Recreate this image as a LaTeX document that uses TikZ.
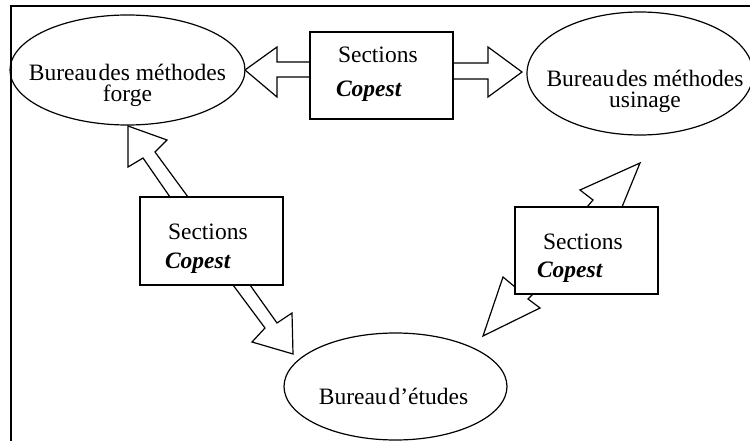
\documentclass[tikz,border=0pt]{standalone}
\usepackage{fontspec}
\setmainfont{Liberation Serif}
\usetikzlibrary{shapes.geometric}
\begin{document}
\begin{tikzpicture}[x=1pt,y=-1pt,
  every node/.style={inner sep=0pt,outer sep=0pt},
  txt/.style={font=\fontsize{23.5}{24}\selectfont},
  cop/.style={font=\fontsize{23.5}{24}\selectfont\bfseries\itshape},
  twoline/.style={font=\fontsize{23.5}{21.5}\selectfont,align=center},
  bubble/.style={draw,ellipse,line width=1.2pt},
  secbox/.style={draw,rectangle,line width=1.8pt,fill=white},
  blockarrow/.style={draw,line width=1.2pt,fill=white,line join=miter}]
\useasboundingbox (0,0) rectangle (750,441);
\begin{scope}
\clip (0,0) rectangle (750,441);
\draw[line width=2pt] (10.5,460) |- (780,6);
\node[bubble,minimum width=226pt,minimum height=123pt] (usin) at (640,73.5) {};
\end{scope}
% ellipses
\node[bubble,minimum width=235pt,minimum height=110pt] (forge) at (127.5,70) {};
\node[bubble,minimum width=223pt,minimum height=107pt] (etudes) at (395.5,386.5) {};
% block arrows
\draw[blockarrow] (310,62) -- (277,62) -- (277,47) -- (245,70) -- (277,97) -- (277,77) -- (310,77) -- cycle;
\draw[blockarrow] (453,63) -- (488,63) -- (488,47) -- (522,72) -- (488,97) -- (488,79) -- (453,79) -- cycle;
\draw[blockarrow] (170,197) -- (143,158) -- (128,167) -- (128,126) -- (167,140) -- (155,152) -- (188,197) -- cycle;
\draw[blockarrow] (233,285) -- (265,328) -- (252,342) -- (293,354) -- (292,313) -- (277,323) -- (250,285) -- cycle;
\draw[blockarrow] (587,207) -- (593,200) -- (580,190) -- (640,163) -- (622,207) -- cycle;
\draw[blockarrow] (515,287) -- (503,277) -- (483,336) -- (540,308) -- (528,299) -- (533,294) -- cycle;
% boxes
\node[secbox,minimum width=143pt,minimum height=87pt] (boxtop) at (381.5,75.5) {};
\node[secbox,minimum width=143pt,minimum height=88pt] (boxleft) at (211.5,241) {};
\node[secbox,minimum width=143pt,minimum height=87pt] (boxright) at (586.5,250.5) {};
% texts
\node[txt,anchor=base west] (t1) at (338,63) {Sections};
\node[cop,anchor=base west] (c1) at (336,97) {Copest};
\node[txt,anchor=base west] (t2) at (168,239) {Sections};
\node[cop,anchor=base west] (c2) at (165,268) {Copest};
\node[txt,anchor=base west] (t3) at (543,249) {Sections};
\node[cop,anchor=base west] (c3) at (537,277) {Copest};
\node[twoline,anchor=base] (ftxt) at (127.5,102) {Bureau\hspace{0.08em}des méthodes\\forge};
\node[twoline,anchor=base] (utxt) at (645,108) {Bureau\hspace{0.08em}des méthodes\\usinage};
\node[txt,anchor=base] (e1) at (393.5,404) {Bureau\hspace{0.08em}d’études};
\end{tikzpicture}
\end{document}
